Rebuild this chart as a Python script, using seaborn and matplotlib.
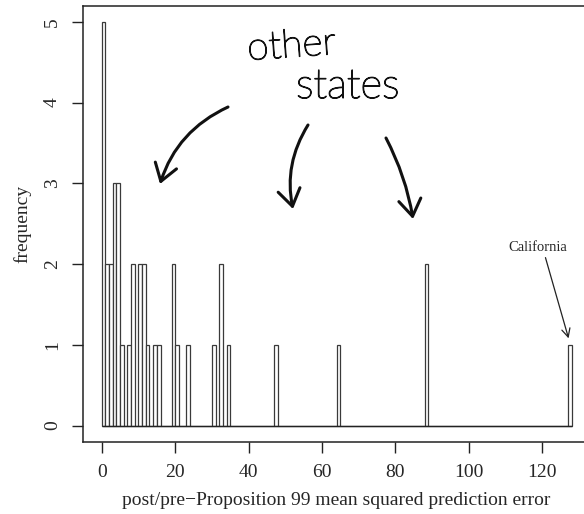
import numpy as np
import matplotlib
matplotlib.use("Agg")
import matplotlib.pyplot as plt
from matplotlib.patches import FancyArrowPatch
import matplotlib.patheffects as pe
import seaborn as sns

# ---- data ----
bin_left = [0, 1, 2, 3, 4, 5, 7, 8, 10, 11, 12, 14, 15, 19, 20, 23, 30, 32, 34, 47, 64, 88, 127]
counts   = [5, 2, 2, 3, 3, 1, 1, 2, 2, 2, 1, 1, 1, 2, 1, 1, 1, 2, 1, 1, 1, 2, 1]
bin_edges = list(range(0, 129))
x_ticks = [0, 20, 40, 60, 80, 100, 120]
y_ticks = [0, 1, 2, 3, 4, 5]
x_label = "post/pre\u2212Proposition 99 mean squared prediction error"
y_label = "frequency"
note_label = "California"
hand_line1 = "other"
hand_line2 = "states"

sns.set_style("white")
plt.rcParams['font.family'] = ['Liberation Serif', 'DejaVu Serif']

W, H = 584, 514
fig = plt.figure(figsize=(W / 100, H / 100), dpi=100)
ax = fig.add_axes([83 / W, (H - 441.7) / H, 507.3 / W, 436 / H])

mids = [b + 0.5 for b in bin_left]
sns.histplot(x=mids, weights=counts, bins=bin_edges, stat="count",
             color="white", edgecolor="#3a3a3a", linewidth=0.9, alpha=1,
             ax=ax)
# solid base line under the empty bins (as the zero-height bars draw it)
ax.plot([bin_edges[0], bin_edges[-1]], [0, 0], color="#222222", lw=1.0,
        solid_capstyle="butt", zorder=3)

ax.set_xlim(-5.12, 133.12)
ax.set_ylim(-0.2, 5.2)
ax.set_xticks(x_ticks)
ax.set_yticks(y_ticks)
ax.set_xticklabels([str(v) for v in x_ticks], fontsize=14)
ax.set_yticklabels([str(v) for v in y_ticks], fontsize=14, rotation=90, va="center")
ax.tick_params(axis="both", direction="out", length=8, width=1.0, color="#222222",
               pad=8, left=True, bottom=True)
for s in ax.spines.values():
    s.set_visible(True)
    s.set_color("#222222")
    s.set_linewidth(1.1)

ax.set_xlabel(x_label, fontsize=14)
ax.set_ylabel(y_label, fontsize=14)
ax.xaxis.set_label_coords(0.5, (441.7 - 492) / 436)
ax.yaxis.set_label_coords((31 - 83) / 507.3, 0.5)

# California note
ax.text(118.9, 2.2, note_label, fontsize=10.5, ha="center", va="center")
ax.annotate("", xy=(127.2, 1.08), xytext=(120.9, 2.08),
            arrowprops=dict(arrowstyle="->,head_length=0.6,head_width=0.3",
                            color="#222222", lw=0.9, shrinkA=0, shrinkB=0))

# hand-written style annotations (figure pixel coordinates)
def P(x, y):
    return (x / W, (H - y) / H)

stroke = [pe.withStroke(linewidth=0.9, foreground="#111111")]
fig.text(*P(246, 46), hand_line1, fontsize=28, family=["Lato", "DejaVu Sans"],
         fontweight="light", color="#111111", va="center", ha="left", rotation=4,
         path_effects=stroke)
fig.text(*P(296, 87), hand_line2, fontsize=30, family=["Lato", "DejaVu Sans"],
         fontweight="light", color="#111111", va="center", ha="left",
         path_effects=stroke)

arrows = [((228, 107), (160, 184), 0.22),
          ((308, 125), (293, 209), 0.2),
          ((386, 138), (413, 219), -0.08)]
for (s, e, r) in arrows:
    a = FancyArrowPatch(P(*s), P(*e), transform=fig.transFigure,
                        connectionstyle=f"arc3,rad={r}",
                        arrowstyle="->,head_length=12,head_width=8",
                        color="#111111", lw=2.2, shrinkA=0, shrinkB=0,
                        capstyle="round", joinstyle="round")
    fig.add_artist(a)

fig.savefig("out.png", dpi=100)
